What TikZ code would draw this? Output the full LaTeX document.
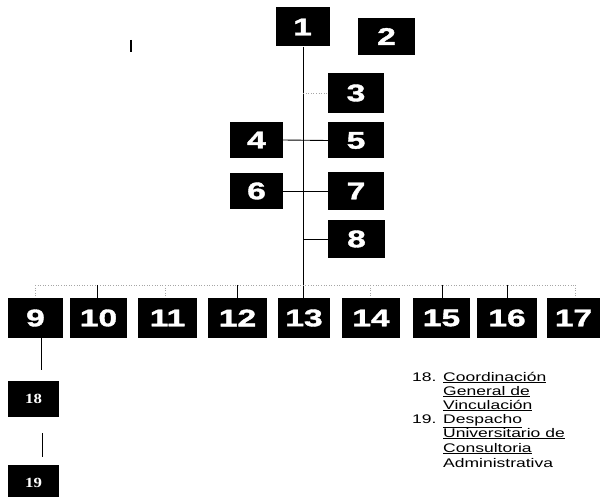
\documentclass[tikz,border=0pt]{standalone}
\usepackage{fontspec}
\setmainfont{Liberation Sans}
\newfontfamily\boxfont{Liberation Sans}[FakeStretch=1.4,FakeBold=1.6]
\newfontfamily\legfont{Liberation Sans}[FakeStretch=1.4]
\newfontfamily\serfont{Liberation Serif}[FakeStretch=1.2]
\begin{document}
\begin{tikzpicture}[x=1pt,y=-1pt,
  box/.style={fill=black, text=white, inner sep=0pt, minimum height=39pt,
    font=\boxfont\bfseries\fontsize{24}{24}\selectfont},
  sbox/.style={fill=black, text=white, inner sep=0pt, minimum width=51pt, minimum height=36pt,
    font=\serfont\bfseries\fontsize{14}{14}\selectfont},
  conn/.style={draw=black, line width=0.9pt},
  faint/.style={draw=black!35, line width=0.6pt, dotted},
  leg/.style={anchor=base west, inner sep=0pt, font=\legfont\fontsize{12.5}{14}\selectfont}]
\useasboundingbox (0,0) rectangle (600,497);
% top boxes
\node[box, minimum width=54pt] (n1) at (302.5,27) {1};
\node[box, minimum width=57pt, minimum height=37pt] (n2) at (386.5,36.5) {2};
\node[box, minimum width=56pt, minimum height=40pt] (n3) at (356,93) {3};
\node[box, minimum width=53pt, minimum height=36pt] (n4) at (256.5,140) {4};
\node[box, minimum width=56pt, minimum height=36pt] (n5) at (356,140.5) {5};
\node[box, minimum width=53pt, minimum height=36pt] (n6) at (256.5,191) {6};
\node[box, minimum width=56pt, minimum height=38pt] (n7) at (356,191) {7};
\node[box, minimum width=57pt, minimum height=38pt] (n8) at (356.5,239) {8};
% bottom row
\node[box, minimum width=55pt, minimum height=40pt] (n9) at (35.5,318) {9};
\node[box, minimum width=57pt, minimum height=40pt] (n10) at (98.5,318) {10};
\node[box, minimum width=59pt, minimum height=40pt] (n11) at (167.5,318) {11};
\node[box, minimum width=59pt, minimum height=40pt] (n12) at (237.5,318) {12};
\node[box, minimum width=52pt, minimum height=40pt] (n13) at (304,318) {13};
\node[box, minimum width=58pt, minimum height=40pt] (n14) at (371,318) {14};
\node[box, minimum width=57pt, minimum height=40pt] (n15) at (441.5,318) {15};
\node[box, minimum width=60pt, minimum height=40pt] (n16) at (507,318) {16};
\node[box, minimum width=53pt, minimum height=40pt] (n17) at (573.5,318) {17};
% lower left
\node[sbox] (n18) at (33.5,399) {18};
\node[sbox] (n19) at (33.5,483) {19};
% main spine
\coordinate (sp) at (303,47);
\draw[conn] (sp) -- (sp |- n13.north);
\draw[conn] (n4.east) -- (n5.west);
\draw[conn] (n6.east) -- (n7.west);
\draw[conn] (sp |- n8.west) -- (n8.west);
\draw[faint] (sp |- n3.west) -- (n3.west);
% bus over bottom row
\coordinate (busL) at (35,285);
\coordinate (busR) at (575,285);
\draw[faint] (busL) -- (busR);
\draw[faint] (busL) -- (busL |- n9.north);
\draw[conn] (97,285) -- (n10.north -| 97,0);
\draw[faint] (165,285) -- (n11.north -| 165,0);
\draw[conn] (237,285) -- (n12.north -| 237,0);
\draw[faint] (370,285) -- (n14.north -| 370,0);
\draw[conn] (442,285) -- (n15.north -| 442,0);
\draw[conn] (507,285) -- (n16.north -| 507,0);
\draw[faint] (busR) -- (busR |- n17.north);
% 9 -> 18 -> 19
\coordinate (c9) at (41,370);
\draw[conn] (c9 |- n9.south) -- (c9);
\coordinate (c18a) at (42,433);
\coordinate (c18b) at (42,457);
\draw[conn] (c18a) -- (c18b);
% stray mark
\draw[line width=1.4pt] (131,40) -- (131,52);
% legend
\node[leg] (t18) at (412,381) {18.};
\node[leg] (t18a) at (443,381) {\underline{Coordinación}};
\node[leg] (t18b) at (443,395) {\underline{General de}};
\node[leg] (t18c) at (443,409) {\underline{Vinculación}};
\node[leg] (t19) at (412,423) {19.};
\node[leg] (t19a) at (443,423) {\underline{Despacho}};
\node[leg] (t19b) at (443,437) {\underline{Universitario de}};
\node[leg] (t19c) at (443,452) {\underline{Consultoria}};
\node[leg] (t19d) at (443,467) {Administrativa};
\end{tikzpicture}
\end{document}
